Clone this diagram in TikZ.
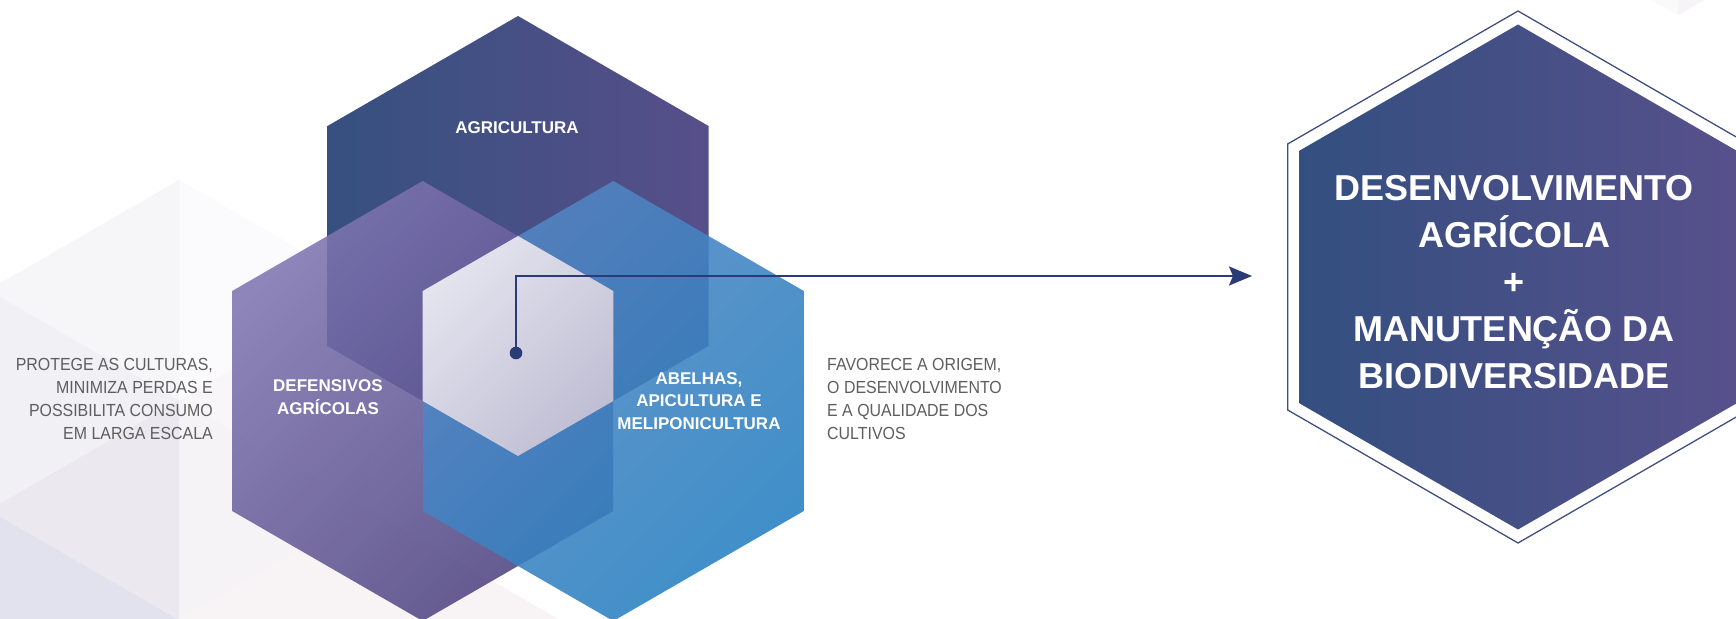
\documentclass[tikz,border=0pt]{standalone}
\usepackage{fontspec}
\setmainfont{Liberation Sans}
\newfontfamily\lightfont[FakeStretch=0.91]{Liberation Sans}
\usetikzlibrary{arrows.meta,positioning}

\definecolor{paleA}{HTML}{FBFAFC}
\definecolor{paleB}{HTML}{F8F6F8}
\definecolor{paleC}{HTML}{F5F3F6}
\definecolor{paleD}{HTML}{EBE8F0}
\definecolor{paleE}{HTML}{F1F0F4}
\definecolor{paleF}{HTML}{F6F5F8}
\definecolor{paleG}{HTML}{E2E2EE}
\definecolor{paleH}{HTML}{F8F4F5}
\definecolor{paleI}{HTML}{F6F4F7}
\definecolor{paleJ}{HTML}{FBFAFB}
\definecolor{topL}{HTML}{36507F}
\definecolor{topR}{HTML}{574F89}
\definecolor{defA}{HTML}{8076B2}
\definecolor{defB}{HTML}{4D4380}
\definecolor{abeA}{HTML}{5686C3}
\definecolor{abeB}{HTML}{2680C2}
\definecolor{coreA}{HTML}{E4E4EF}
\definecolor{coreB}{HTML}{C0BED3}
\definecolor{goalL}{HTML}{334F80}
\definecolor{goalR}{HTML}{57508B}
\definecolor{linkblue}{HTML}{2B3B75}
\definecolor{notegray}{HTML}{5E5E5E}

% hexagon with a pointed top: centre x, centre y, radius
\newcommand{\hexpath}[3]{({#1},{#2-#3}) -- ({#1+0.866*#3},{#2-0.5*#3}) -- ({#1+0.866*#3},{#2+0.5*#3}) -- ({#1},{#2+#3}) -- ({#1-0.866*#3},{#2+0.5*#3}) -- ({#1-0.866*#3},{#2-0.5*#3}) -- cycle}

\tikzset{
  hexlabel/.style = {text=white, inner sep=0pt, align=center,
                     font=\fontsize{17}{22.5}\selectfont\bfseries},
  sidenote/.style = {text=notegray, inner sep=0pt,
                     font=\lightfont\fontsize{17.5}{22.8}\selectfont},
  goaltext/.style = {text=white, inner sep=0pt, align=center,
                     font=\fontsize{36}{47}\selectfont\bfseries},
  dotnode/.style  = {circle, fill=linkblue, minimum size=12.6pt, inner sep=0pt},
  link/.style     = {draw=linkblue, line width=2.3pt},
  goalline/.style = {draw=linkblue!90!white, line width=1.3pt}
}

\begin{document}
\begin{tikzpicture}[x=1pt, y=-1pt,
  >={Stealth[length=23pt,width=19pt,inset=4pt]}]

% frame of the picture
\clip (0,0) rectangle (1736,618);
\fill[white] (0,0) rectangle (1736,618);

% pale background hexagons
\foreach \a/\col in {270/paleA,330/paleB,30/paleC,90/paleD,150/paleE,210/paleF}
  \fill[\col, shift={(179,400)}] (0,0) -- (\a:220) -- ({\a+60}:220) -- cycle;
\fill[paleG] \hexpath{-11.5}{730}{220};
\fill[paleH] \hexpath{369.5}{730}{220};
\foreach \a/\col in {30/paleI,90/paleJ}
  \fill[\col, shift={(1678,-205)}] (0,0) -- (\a:220) -- ({\a+60}:220) -- cycle;

% three overlapping hexagons
\shade[left color=topL, right color=topR] \hexpath{518}{236}{220};
\shade[top color=defA, bottom color=defB, shading angle=45,
       fill opacity=0.88] \hexpath{422.7}{401}{220};
\shade[top color=abeA, bottom color=abeB, shading angle=45,
       fill opacity=0.88] \hexpath{613.3}{401}{220};
% core hexagon
\shade[top color=coreA, bottom color=coreB, shading angle=45] \hexpath{518}{346}{110};

\node[hexlabel] (agri) at (517,128) {AGRICULTURA};
\node[hexlabel] (defens) at (328,397) {DEFENSIVOS\\AGRÍCOLAS};
\node[hexlabel] (abelhas) at (699,401) {ABELHAS,\\APICULTURA E\\MELIPONICULTURA};

% notes beside the hexagons
\node[sidenote, align=right, anchor=east] (protege) at (213,399)
  {PROTEGE AS CULTURAS,\\MINIMIZA PERDAS E\\POSSIBILITA CONSUMO\\EM LARGA ESCALA};
\node[sidenote, align=left, anchor=west] (favorece) at (827,399)
  {FAVORECE A ORIGEM,\\O DESENVOLVIMENTO\\E A QUALIDADE DOS\\CULTIVOS};

% connector to the goal
\node[dotnode] (dot) at (516,353) {};
\coordinate (tip) at (1252,276);
\draw[link,->] (dot) |- (tip);

% goal hexagon
\draw[goalline] \hexpath{1518}{277}{266};
\shade[left color=goalL, right color=goalR] \hexpath{1518}{277}{252.5};
\node[goaltext] (goal) at (1514,282)
  {DESENVOLVIMENTO\\AGRÍCOLA\\+\\MANUTENÇÃO DA\\BIODIVERSIDADE};

\end{tikzpicture}
\end{document}
